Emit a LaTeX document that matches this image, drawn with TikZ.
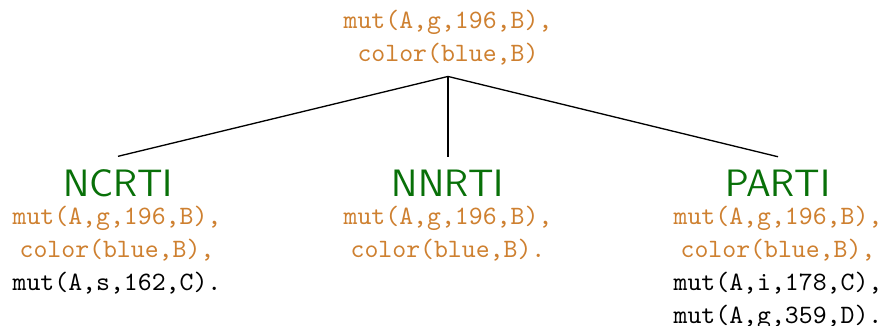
\documentclass[tikz,border=0pt]{standalone}
\usepackage{xcolor}
\definecolor{factorange}{RGB}{206,128,48}
\definecolor{classgreen}{RGB}{8,112,8}
\begin{document}
\begin{tikzpicture}[x=0.3774pt,y=-0.3774pt,
  facts/.style={inner sep=0pt,align=center,anchor=north,
    font=\ttfamily\fontsize{10}{12.5}\selectfont},
  classname/.style={inner xsep=0pt,inner ysep=5pt,anchor=base,
    text=classgreen,font=\sffamily\Large},
  edge/.style={draw=black,line width=0.5pt}]
\useasboundingbox (0,0) rectangle (885,326);

% root: facts shared by every class
\node[facts,inner ysep=4pt,text=factorange] (root) at (448,-1)
  {mut(A,g,196,B),\\color(blue,B)};

% class labels
\node[classname] (ncrti) at (118,197) {NCRTI};
\node[classname] (nnrti) at (448,197) {NNRTI};
\node[classname] (parti) at (778,197) {PARTI};

% facts per class
\node[facts] (fn) at (117,205.5)
  {\textcolor{factorange}{mut(A,g,196,B),}\\
   \textcolor{factorange}{color(blue,B),}\\
   mut(A,s,162,C).};
\node[facts,text=factorange] (fm) at (448,205.5)
  {mut(A,g,196,B),\\color(blue,B).};
\node[facts] (fp) at (778,205.5)
  {\textcolor{factorange}{mut(A,g,196,B),}\\
   \textcolor{factorange}{color(blue,B),}\\
   mut(A,i,178,C),\\
   mut(A,g,359,D).};

% tree edges
\draw[edge] (root.south) -- (ncrti.north);
\draw[edge] (root.south) -- (nnrti.north);
\draw[edge] (root.south) -- (parti.north);
\end{tikzpicture}
\end{document}
